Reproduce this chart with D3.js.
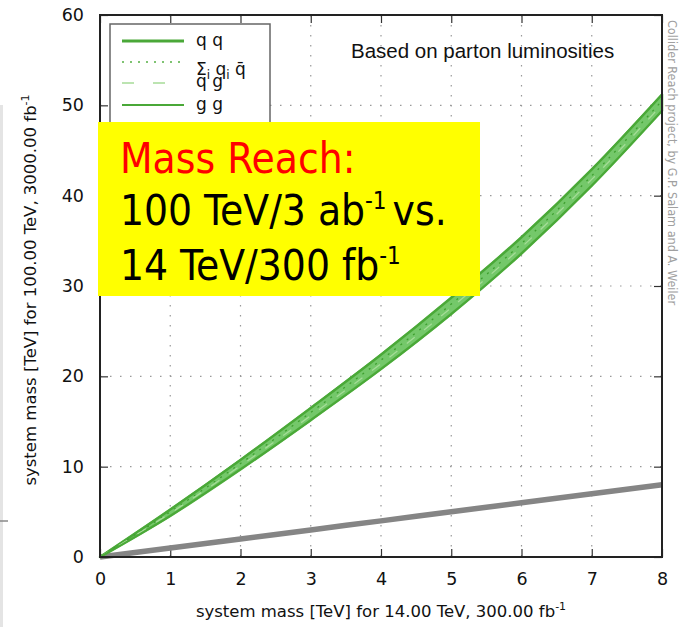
<!DOCTYPE html>
<html>
<head>
<meta charset="utf-8">
<script src="https://cdn.jsdelivr.net/npm/d3@7"></script>
<style>
  html, body { margin: 0; padding: 0; background: #fff; }
  svg { display: block; }
</style>
</head>
<body>
<div id="chart"></div>
<script>
// system mass at 14 TeV / 300 fb-1 (TeV)
const massLHC = [0, 1, 2, 3, 4, 5, 6, 7, 8];
// equivalent reach at 100 TeV / 3000 fb-1 (TeV), one array per channel
const reachQQ    = [0, 5.25, 10.75, 16.5, 22.4, 28.7, 35.4, 42.9, 51.2];
const reachQQbar = [0, 5.0, 10.35, 16.0, 21.8, 28.0, 34.7, 42.2, 50.5];
const reachQG    = [0, 4.85, 10.1, 15.65, 21.4, 27.6, 34.3, 41.8, 50.1];
const reachGG    = [0, 4.55, 9.7, 15.15, 20.8, 26.9, 33.6, 41.1, 49.4];
// same-mass reference line
const sameMass   = [0, 1, 2, 3, 4, 5, 6, 7, 8];

const xTicks = [0, 1, 2, 3, 4, 5, 6, 7, 8];
const yTicks = [0, 10, 20, 30, 40, 50, 60];

const W = 682, H = 627;
const margin = { top: 15, right: 20, bottom: 70, left: 100 };
const width = 662 - margin.left;
const height = 557 - margin.top;

const svg = d3.select("#chart").append("svg")
    .attr("width", W).attr("height", H)
    .style("font-family", "'DejaVu Sans', sans-serif");

// slide edge artefact on the left
svg.append("rect").attr("x", 0).attr("y", 105).attr("width", 3).attr("height", H - 105).attr("fill", "#e4e4e4");
svg.append("line").attr("x1", 0).attr("x2", 8).attr("y1", 521).attr("y2", 521).attr("stroke", "#888").attr("stroke-width", 1.5);

const g = svg.append("g").attr("transform", `translate(${margin.left},${margin.top})`);

const x = d3.scaleLinear().domain([0, 8]).range([0, width]);
const y = d3.scaleLinear().domain([0, 60]).range([height, 0]);

// dotted grid
g.append("g").selectAll("line").data(xTicks.slice(1, -1)).enter().append("line")
    .attr("x1", d => x(d)).attr("x2", d => x(d)).attr("y1", 0).attr("y2", height)
    .attr("stroke", "#999").attr("stroke-width", 1.2).attr("stroke-dasharray", "1.5,8.5");
g.append("g").selectAll("line").data(yTicks.slice(1, -1)).enter().append("line")
    .attr("y1", d => y(d)).attr("y2", d => y(d)).attr("x1", 0).attr("x2", width)
    .attr("stroke", "#999").attr("stroke-width", 1.2).attr("stroke-dasharray", "1.5,8.5");

// inward ticks on all four sides
const tk = 8;
const xAxisB = g.append("g").attr("transform", `translate(0,${height})`)
    .call(d3.axisBottom(x).tickValues(xTicks).tickSizeInner(-tk).tickSizeOuter(0).tickPadding(16));
const xAxisT = g.append("g")
    .call(d3.axisTop(x).tickValues(xTicks).tickSizeInner(-tk).tickSizeOuter(0).tickFormat(""));
const yAxisL = g.append("g")
    .call(d3.axisLeft(y).tickValues(yTicks).tickSizeInner(-tk).tickSizeOuter(0).tickPadding(16));
const yAxisR = g.append("g").attr("transform", `translate(${width},0)`)
    .call(d3.axisRight(y).tickValues(yTicks).tickSizeInner(-tk).tickSizeOuter(0).tickFormat(""));
[xAxisB, xAxisT, yAxisL, yAxisR].forEach(a => {
    a.select(".domain").remove();
    a.selectAll("line").attr("stroke", "#333").attr("stroke-width", 1.2);
    a.selectAll("text").attr("font-size", 17.5).attr("fill", "#111")
        .style("font-family", "'DejaVu Sans', sans-serif");
});

// reference line
const line = vals => d3.line().curve(d3.curveMonotoneX)
    .x((d, i) => x(massLHC[i])).y(d => y(d))(vals);
g.append("path").attr("d", line(sameMass))
    .attr("fill", "none").attr("stroke", "#858585").attr("stroke-width", 5.5);

// green band
const lower = massLHC.map((m, i) => Math.min(reachQQ[i], reachQQbar[i], reachQG[i], reachGG[i]));
const upper = massLHC.map((m, i) => Math.max(reachQQ[i], reachQQbar[i], reachQG[i], reachGG[i]));
g.append("path")
    .attr("d", d3.area().curve(d3.curveMonotoneX)
        .x((d, i) => x(massLHC[i])).y0((d, i) => y(lower[i])).y1(d => y(d))(upper))
    .attr("fill", "#74c86a").attr("stroke", "#58b446").attr("stroke-width", 2.5).attr("stroke-linejoin", "round");
g.append("path").attr("d", line(reachQQ)).attr("fill", "none").attr("stroke", "#4aa838").attr("stroke-width", 2);
g.append("path").attr("d", line(reachQQbar)).attr("fill", "none").attr("stroke", "#3f9f30").attr("stroke-width", 1.3).attr("stroke-dasharray", "2,6");
g.append("path").attr("d", line(reachQG)).attr("fill", "none").attr("stroke", "#a6dc98").attr("stroke-width", 1.3).attr("stroke-dasharray", "10,12");
g.append("path").attr("d", line(reachGG)).attr("fill", "none").attr("stroke", "#4aa838").attr("stroke-width", 1.8);

// frame
g.append("rect").attr("width", width).attr("height", height)
    .attr("fill", "none").attr("stroke", "#222").attr("stroke-width", 2);

// legend
const lg = svg.append("g");
lg.append("rect").attr("x", 110).attr("y", 24).attr("width", 160).attr("height", 110)
    .attr("fill", "#fff").attr("stroke", "#666").attr("stroke-width", 1.5);
const legendRows = [
    { y: 41, stroke: "#4aa838", w: 3, dash: null },
    { y: 62, stroke: "#55b044", w: 1.5, dash: "2,6" },
    { y: 83, stroke: "#a6dc98", w: 1.5, dash: "12,19" },
    { y: 105, stroke: "#4aa838", w: 2, dash: null }
];
legendRows.forEach(r => {
    lg.append("line").attr("x1", 122).attr("x2", 184).attr("y1", r.y).attr("y2", r.y)
        .attr("stroke", r.stroke).attr("stroke-width", r.w).attr("stroke-dasharray", r.dash);
});
const lt = (yy) => lg.append("text").attr("x", 196).attr("y", yy).attr("font-size", 17)
    .attr("fill", "#111").attr("font-weight", 500);
lt(46).text("q q");
const sig = lt(75);
sig.append("tspan").text("Σ");
sig.append("tspan").attr("font-size", 12).attr("dy", 4).text("i");
sig.append("tspan").attr("dy", -4).text(" q");
sig.append("tspan").attr("font-size", 12).attr("dy", 4).text("i");
sig.append("tspan").attr("dy", -4).text(" q\u0304");
lt(87).text("q g");
lt(110).text("g g");

// annotation
svg.append("text").attr("x", 351).attr("y", 58).attr("font-size", 20.5)
    .style("font-family", "'Liberation Sans', Arial, sans-serif").attr("fill", "#111")
    .text("Based on parton luminosities");

// credit on the right edge
svg.append("text").attr("transform", "translate(668,20) rotate(90)")
    .attr("font-size", 12.5).attr("fill", "#a0a0a0")
    .style("font-family", "'DejaVu Sans Condensed', 'DejaVu Sans', sans-serif")
    .text("Collider Reach project, by G.P. Salam and A. Weiler");

// axis titles
const xt = svg.append("text").attr("x", 381).attr("y", 617).attr("text-anchor", "middle")
    .attr("font-size", 16.5).attr("fill", "#111");
xt.append("tspan").text("system mass [TeV] for 14.00 TeV, 300.00 fb");
xt.append("tspan").attr("font-size", 11).attr("dy", -7).text("-1");
const yt = svg.append("text").attr("transform", "translate(36,290) rotate(-90)")
    .attr("text-anchor", "middle").attr("font-size", 16.5).attr("fill", "#111");
yt.append("tspan").text("system mass [TeV] for 100.00 TeV, 3000.00 fb");
yt.append("tspan").attr("font-size", 11).attr("dy", -7).text("-1");

// yellow box
const box = svg.append("g").style("font-family", "'DejaVu Sans Condensed', 'DejaVu Sans', sans-serif");
box.append("rect").attr("x", 98).attr("y", 122).attr("width", 382).attr("height", 174).attr("fill", "#ffff00");
box.append("text").attr("x", 120).attr("y", 173).attr("font-size", 42).attr("fill", "#ff0000").text("Mass Reach:");
const b1 = box.append("text").attr("x", 120).attr("y", 225).attr("font-size", 42).attr("fill", "#000");
b1.append("tspan").text("100 TeV/3 ab");
b1.append("tspan").attr("font-size", 24).attr("dy", -16).text("-1");
b1.append("tspan").attr("dy", 16).attr("dx", 6).text("vs.");
const b2 = box.append("text").attr("x", 120).attr("y", 280).attr("font-size", 42).attr("fill", "#000");
b2.append("tspan").text("14 TeV/300 fb");
b2.append("tspan").attr("font-size", 24).attr("dy", -16).text("-1");
</script>
</body>
</html>
